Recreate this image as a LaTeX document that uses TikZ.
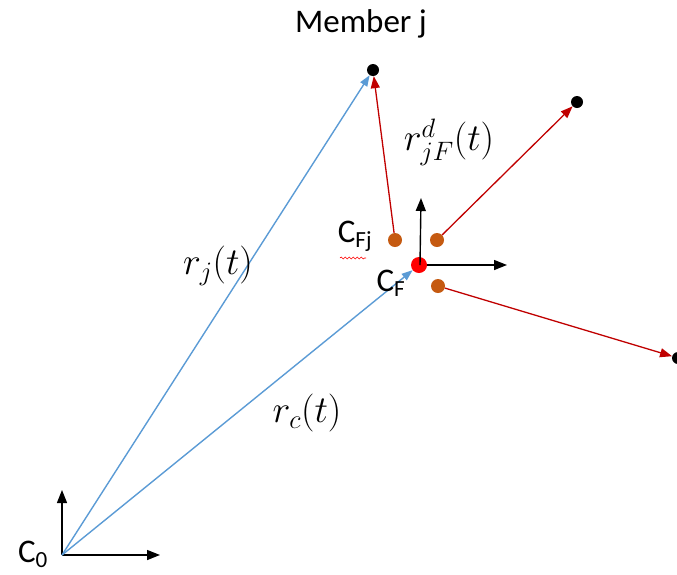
\RequirePackage{fix-cm}
\documentclass[tikz,border=0pt]{standalone}
\usepackage{fontspec}
\setmainfont{Carlito}
\usetikzlibrary{arrows.meta,decorations.pathmorphing}
\definecolor{offblue}{HTML}{5B9BD5}
\definecolor{darkred}{HTML}{C00000}
\definecolor{brownish}{HTML}{C55A11}
\tikzset{
  dotblack/.style={circle,fill=black,inner sep=0pt,minimum size=12pt},
  dotbrown/.style={circle,fill=brownish,inner sep=0pt,minimum size=14pt},
  dotred/.style={circle,fill=red,inner sep=0pt,minimum size=16pt},
  bluearrow/.style={draw=offblue,line width=1.4pt,-{Triangle[length=11pt,width=8pt]}},
  redarrow/.style={draw=darkred,line width=1.3pt,-{Triangle[length=12pt,width=9pt]}},
  axisarrow/.style={draw=black,line width=1.4pt,-{Triangle[length=13pt,width=10pt]}},
  lbl/.style={inner sep=0pt,font=\fontsize{33}{40}\selectfont},
  mlbl/.style={inner sep=0pt,font=\fontsize{38}{44}\selectfont}
}
\begin{document}
\begin{tikzpicture}[x=1pt,y=-1pt]
\useasboundingbox (0,0) rectangle (677,574);
% origin C0
\coordinate (O) at (62,555);
\coordinate (Oup) at (62,490);
\coordinate (Oright) at (160,555);
\draw[axisarrow] (O) -- (Oup);
\draw[axisarrow] (O) -- (Oright);
\node[lbl] (c0) at (33,554) {C\textsubscript{0}};
% points
\node[dotblack] (mj) at (373,70) {};
\node[dotblack] (p2) at (577,102) {};
\node[dotblack] (p3) at (678,358) {};
\node[dotred] (cf) at (419,265) {};
\node[dotbrown] (b1) at (395,240) {};
\node[dotbrown] (b2) at (437,240) {};
\node[dotbrown] (b3) at (438,286) {};
% CF axes
\coordinate (cfup) at (421,198);
\coordinate (cfright) at (507,265);
\draw[axisarrow] (cf.center) ++(1,0) -- (cfup);
\draw[axisarrow] (cf) -- (cfright);
% blue vectors
\draw[bluearrow] (O) -- (mj);
\draw[bluearrow] (O) -- (cf);
% red vectors
\draw[redarrow] (b1) -- (mj);
\draw[redarrow] (b2) -- (p2);
\draw[redarrow] (b3) -- (p3);
% labels
\node[lbl] (mem) at (361,24) {Member j};
\node[mlbl] (rjf) at (449,142) {$r_{jF}^{d}(t)$};
\node[mlbl] (rj) at (218,266) {$r_{j}(t)$};
\node[mlbl] (rc) at (307,413) {$r_{c}(t)$};
\node[lbl] (cfj) at (355,236) {C\textsubscript{Fj}};
\node[lbl] (cfl) at (391,283) {C\textsubscript{F}};
\coordinate (w1) at (340,258);
\coordinate (w2) at (366,258);
\draw[red,line width=0.6pt,decorate,decoration={snake,amplitude=1pt,segment length=4pt}] (w1) -- (w2);
\end{tikzpicture}
\end{document}
